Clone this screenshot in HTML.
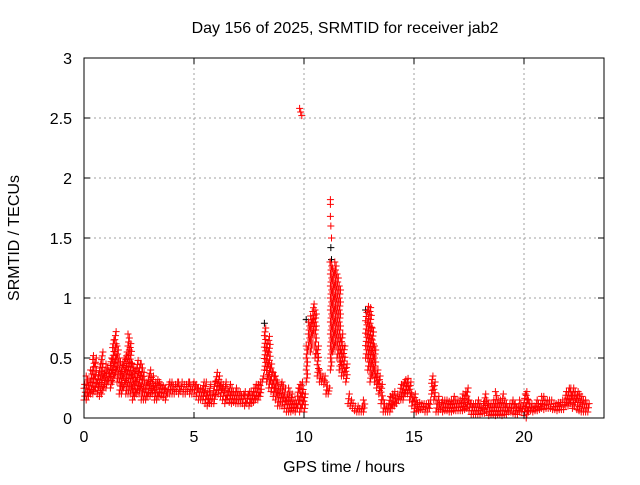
<!DOCTYPE html>
<html><head><meta charset="utf-8"><style>
body{margin:0;background:#fff}
svg text{font-family:"Liberation Sans",sans-serif;font-size:16px;fill:#000}
</style></head><body>
<svg id="chart" width="640" height="480" viewBox="0 0 640 480" xmlns="http://www.w3.org/2000/svg">
<rect width="640" height="480" fill="#fff"/>
<text x="345" y="33" text-anchor="middle">Day 156 of 2025, SRMTID for receiver jab2</text>
<text transform="translate(19,238) rotate(-90)" text-anchor="middle">SRMTID / TECUs</text>
<text x="344" y="472" text-anchor="middle">GPS time / hours</text>
<g id="grid"></g><g id="marks"></g><g id="axes"></g>
</svg>
<script>
const xTicks=[0,5,10,15,20];
const yTicks=[0,0.5,1,1.5,2,2.5,3];
const yTickLabels=["0","0.5","1","1.5","2","2.5","3"];
const tStart=0, tStep=0.1;
const redHigh=[.28,.35,.3,.4,.52,.5,.35,.45,.55,.4,
.45,.4,.5,.65,.72,.6,.5,.45,.5,.55,
.7,.62,.45,.4,.48,.45,.45,.38,.3,.35,
.4,.35,.3,.32,.3,.28,.27,.25,.28,.3,
.3,.28,.3,.3,.3,.28,.28,.3,.3,.28,
.3,.28,.25,.25,.3,.3,.22,.28,.2,.3,
.38,.35,.3,.28,.3,.25,.28,.25,.22,.25,
.22,.22,.2,.22,.2,.22,.22,.25,.28,.28,
.3,.35,.75,.62,.68,.45,.38,.35,.3,.28,
.3,.25,.2,.25,.2,.15,.15,.25,.28,.3,
.2,.6,.8,.85,.95,.9,.6,.4,.35,.35,
.3,.25,1.3,1.25,1.3,1.2,1.1,.7,.6,.45,
.2,.15,.12,.1,.1,.08,.1,.15,.88,.93,
.92,.75,.6,.4,.35,.28,.15,.1,.12,.18,
.2,.22,.2,.2,.28,.3,.32,.33,.3,.2,
.2,.15,.13,.12,.12,.12,.12,.15,.35,.3,
.15,.18,.13,.15,.15,.15,.14,.15,.18,.15,
.15,.15,.2,.22,.25,.15,.12,.12,.12,.15,
.12,.12,.2,.15,.12,.12,.15,.22,.15,.15,
.2,.15,.12,.12,.12,.15,.12,.1,.15,.1,
.2,.22,.15,.12,.1,.12,.15,.12,.18,.18,
.15,.15,.15,.12,.12,.13,.13,.15,.15,.22,
.25,.25,.25,.22,.22,.2,.18,.15,.15,.12];
const redLow=[.15,.15,.18,.2,.2,.22,.2,.18,.2,.25,
.25,.3,.25,.3,.35,.3,.2,.2,.25,.2,
.2,.2,.15,.18,.2,.2,.15,.15,.15,.18,
.18,.2,.15,.15,.18,.18,.17,.15,.2,.2,
.2,.2,.22,.2,.22,.2,.2,.22,.2,.2,
.2,.18,.15,.15,.15,.12,.1,.12,.12,.12,
.2,.2,.18,.15,.12,.15,.13,.12,.13,.12,
.12,.12,.12,.1,.12,.1,.12,.13,.15,.15,
.18,.3,.4,.3,.25,.22,.18,.15,.1,.1,
.1,.08,.05,.05,.05,.06,.05,.08,.05,.08,
.05,.3,.6,.55,.7,.5,.35,.3,.3,.28,
.2,.2,.4,.55,.6,.5,.4,.35,.35,.3,
.12,.1,.08,.06,.05,.05,.05,.05,.5,.4,
.3,.35,.3,.25,.2,.12,.05,.05,.05,.05,
.08,.1,.12,.15,.15,.15,.2,.2,.15,.1,
.05,.05,.06,.07,.07,.05,.05,.08,.2,.15,
.05,.05,.07,.05,.06,.06,.05,.05,.06,.06,
.06,.06,.06,.07,.08,.06,.03,.03,.03,.03,
.03,.04,.04,.05,.02,.03,.03,.02,.03,.03,
.02,.03,.03,.05,.05,.04,.03,.03,.05,.05,
.02,0,.05,.06,.05,.06,.06,.07,.08,.07,
.08,.08,.08,.07,.07,.06,.07,.07,.07,.1,
.1,.12,.08,.1,.07,.06,.05,.05,.05,.05];
const spikeTimes=[9.8,9.85,9.9,11.2,11.2,11.2,11.22,11.25,11.18];
const spikeValues=[2.58,2.55,2.52,1.82,1.78,1.68,1.6,1.5,1.3];
const blackTimes=[8.2,10.1,11.22,11.25,12.8];
const blackValues=[0.79,0.82,1.42,1.32,0.9];

const X0=84,X1=604,Y0=418,Y1=58,XMAX=23.636,YMAX=3;
const sx=v=>X0+v/XMAX*(X1-X0);
const sy=v=>Y0-v/YMAX*(Y0-Y1);
const NS="http://www.w3.org/2000/svg";
function mk(tag,attrs,parent){const e=document.createElementNS(NS,tag);for(const k in attrs)e.setAttribute(k,attrs[k]);parent.appendChild(e);return e;}
const grid=document.getElementById('grid'),marks=document.getElementById('marks'),axes=document.getElementById('axes');
xTicks.forEach(t=>{
 if(t>0){const g=mk('line',{x1:sx(t),x2:sx(t),y1:Y1,y2:Y0,stroke:'#a0a0a0','stroke-dasharray':'2,3'},grid);
 
 }
 const tk=mk('line',{x1:sx(t),x2:sx(t),y1:Y0,y2:Y0-6,stroke:'#000'},axes);
 
 
 const tk2=mk('line',{x1:sx(t),x2:sx(t),y1:Y1,y2:Y1+6,stroke:'#000'},axes);
 
 
 const l=mk('text',{x:sx(t),y:Y0+24,'text-anchor':'middle'},axes);l.textContent=String(t);
 
 
});
yTicks.forEach((t,i)=>{
 if(t>0&&t<YMAX){const g=mk('line',{x1:X0,x2:X1,y1:sy(t),y2:sy(t),stroke:'#a0a0a0','stroke-dasharray':'2,3'},grid);
 
 }
 const tk=mk('line',{x1:X0,x2:X0+6,y1:sy(t),y2:sy(t),stroke:'#000'},axes);
 
 
 const tk2=mk('line',{x1:X1,x2:X1-6,y1:sy(t),y2:sy(t),stroke:'#000'},axes);
 
 
 const l=mk('text',{x:X0-12,y:sy(t)+6,'text-anchor':'end'},axes);l.textContent=yTickLabels[i];
 
 
});
const border=mk('rect',{x:X0,y:Y1,width:X1-X0,height:Y0-Y1,fill:'none',stroke:'#000'},axes);


function cross(t,v,color,name){
 const x=sx(t),y=sy(v);
 const p=mk('path',{d:`M${x-3.5},${y}H${x+3.5}M${x},${y-3.5}V${y+3.5}`,stroke:color,'stroke-width':1,fill:'none'},marks);
 
 
}
blackTimes.forEach((t,i)=>cross(t,blackValues[i],'#000','black-point'));
redHigh.forEach((hi,i)=>{
 const lo=redLow[i];const t=tStart+i*tStep;
 const n=Math.max(1,Math.round((sy(lo)-sy(hi))/4));
 for(let k=0;k<=n;k++){const v=lo+(hi-lo)*k/n;cross(t+(k%3)*0.03,v,'#f00','red-point');}
});
spikeTimes.forEach((t,i)=>cross(t,spikeValues[i],'#f00','red-spike-point'));
</script>
</body></html>
